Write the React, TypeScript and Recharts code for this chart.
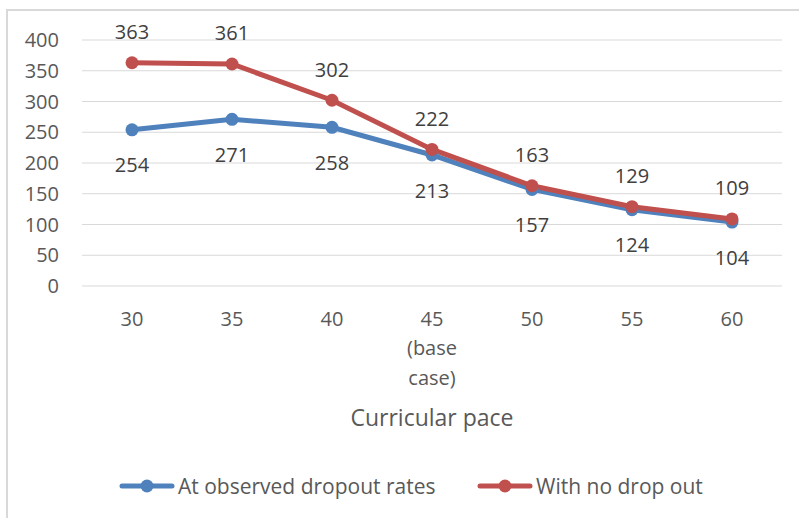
import React from 'react'
import {
  LineChart,
  Line,
  XAxis,
  YAxis,
  CartesianGrid,
  Legend,
  LabelList,
  Label,
} from 'recharts'

const paceLabels = ['30', '35', '40', '45', '50', '55', '60']
const observedDropout = [254, 271, 258, 213, 157, 124, 104]
const noDropout = [363, 361, 302, 222, 163, 129, 109]
const yTicks = [0, 50, 100, 150, 200, 250, 300, 350, 400]

const BLUE = '#4f81bd'
const RED = '#c0504d'
const TEXT = '#595959'
const FONT = '"Open Sans", sans-serif'

const data = paceLabels.map((pace, i) => ({
  pace,
  observed: observedDropout[i],
  none: noDropout[i],
}))

function PaceTick(props: any) {
  const { x, y, payload } = props
  const lines = payload.value === '45' ? ['45', '(base', 'case)'] : [payload.value]
  return (
    <g>
      {lines.map((line, i) => (
        <text
          key={i}
          x={x}
          y={y + 32 + i * 29.5}
          textAnchor="middle"
          dominantBaseline="central"
          fill={TEXT}
          fontSize={20}
          fontFamily={FONT}
        >
          {line}
        </text>
      ))}
    </g>
  )
}

function AxisTitle(props: any) {
  const vb = props.viewBox
  return (
    <text
      x={vb.x + vb.width / 2}
      y={vb.y + 131}
      textAnchor="middle"
      dominantBaseline="central"
      fill={TEXT}
      fontSize={23}
      fontFamily={FONT}
    >
      Curricular pace
    </text>
  )
}

const valueLabel = (dy: number) => (props: any) => {
  const { x, y, value } = props
  return (
    <text
      x={x}
      y={y + dy}
      textAnchor="middle"
      dominantBaseline="central"
      fill="#404040"
      fontSize={20}
      fontFamily={FONT}
    >
      {value}
    </text>
  )
}

function LegendIcon({ color }: { color: string }) {
  return (
    <svg width={56} height={14} style={{ display: 'block' }}>
      <line x1={3} y1={7} x2={53} y2={7} stroke={color} strokeWidth={5} strokeLinecap="round" />
      <circle cx={28} cy={7} r={6.5} fill={color} />
    </svg>
  )
}

function ChartLegend() {
  const items = [
    { name: 'At observed dropout rates', color: BLUE, left: 119 },
    { name: 'With no drop out', color: RED, left: 477 },
  ]
  return (
    <div style={{ position: 'relative', width: 799, height: 28 }}>
      {items.map((it) => (
        <div
          key={it.name}
          style={{
            position: 'absolute',
            left: it.left,
            top: 0,
            height: 28,
            display: 'flex',
            alignItems: 'center',
            gap: 3,
            color: TEXT,
            fontSize: 21,
            fontFamily: FONT,
            whiteSpace: 'nowrap',
          }}
        >
          <LegendIcon color={it.color} />
          <span>{it.name}</span>
        </div>
      ))}
    </div>
  )
}

export default function App() {
  return (
    <div
      style={{
        position: 'absolute',
        left: 0,
        top: 0,
        width: 799,
        height: 518,
        overflow: 'hidden',
        background: '#fff',
      }}
    >
      <div
        style={{
          position: 'absolute',
          left: 6,
          top: 9,
          width: 900,
          height: 700,
          border: '2px solid #d9d9d9',
        }}
      />
      <div style={{ position: 'absolute', left: 0, top: 0 }}>
        <LineChart
          width={799}
          height={518}
          data={data}
          margin={{ top: 40, right: 17, left: 0, bottom: 18 }}
        >
          <CartesianGrid vertical={false} stroke="#d9d9d9" strokeWidth={1.2} />
          <XAxis
            dataKey="pace"
            height={186}
            padding={{ left: 50, right: 50 }}
            axisLine={false}
            tickLine={false}
            tickSize={0}
            tickMargin={0}
            interval={0}
            tick={<PaceTick />}
          >
            <Label content={<AxisTitle />} />
          </XAxis>
          <YAxis
            width={82}
            domain={[0, 400]}
            ticks={yTicks}
            axisLine={false}
            tickLine={false}
            tickMargin={17}
            tick={{ fill: TEXT, fontSize: 20, fontFamily: FONT }}
          />
          <Legend verticalAlign="bottom" content={<ChartLegend />} wrapperStyle={{ left: 0, width: 799 }} />
          <Line
            dataKey="observed"
            name="At observed dropout rates"
            stroke={BLUE}
            strokeWidth={5}
            dot={{ r: 6.5, fill: BLUE, stroke: BLUE, strokeWidth: 0 }}
            activeDot={false}
            isAnimationActive={false}
          >
            <LabelList dataKey="observed" content={valueLabel(35)} />
          </Line>
          <Line
            dataKey="none"
            name="With no drop out"
            stroke={RED}
            strokeWidth={5}
            dot={{ r: 6.5, fill: RED, stroke: RED, strokeWidth: 0 }}
            activeDot={false}
            isAnimationActive={false}
          >
            <LabelList dataKey="none" content={valueLabel(-31)} />
          </Line>
        </LineChart>
      </div>
    </div>
  )
}
